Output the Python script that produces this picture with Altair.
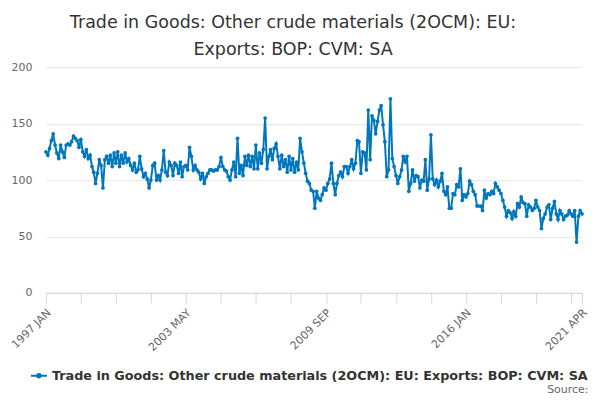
import pandas as pd
import altair as alt

# chart text
title_lines = ["Trade in Goods: Other crude materials (2OCM): EU:",
               "Exports: BOP: CVM: SA"]
series_name = "Trade in Goods: Other crude materials (2OCM): EU: Exports: BOP: CVM: SA"
source_text = "Source:"

# monthly series, Jan 1997 .. Apr 2021
first_month = "1997-01-01"
v1997 = [125, 122, 128, 135, 141, 131, 124, 119, 131, 125, 120, 131]
v1998 = [132, 131, 134, 139, 137, 135, 129, 136, 125, 121, 127, 119]
v1999 = [122, 112, 107, 97, 106, 118, 113, 93, 118, 121, 115, 122]
v2000 = [112, 124, 115, 125, 112, 122, 115, 124, 116, 119, 113, 109]
v2001 = [115, 107, 109, 121, 110, 103, 106, 101, 93, 100, 113, 115]
v2002 = [100, 104, 100, 109, 126, 107, 104, 116, 113, 104, 115, 113]
v2003 = [106, 116, 103, 112, 113, 109, 129, 121, 109, 113, 109, 107]
v2004 = [101, 106, 97, 103, 106, 109, 109, 108, 109, 109, 112, 120]
v2005 = [112, 109, 108, 103, 100, 109, 116, 103, 137, 106, 113, 104]
v2006 = [121, 113, 122, 112, 121, 110, 131, 110, 124, 115, 127, 155]
v2007 = [110, 121, 127, 118, 128, 132, 121, 110, 122, 112, 118, 107]
v2008 = [121, 109, 119, 107, 116, 109, 137, 125, 115, 106, 99, 97]
v2009 = [91, 90, 75, 90, 84, 82, 87, 93, 91, 97, 101, 115]
v2010 = [97, 87, 97, 104, 107, 103, 112, 112, 106, 112, 118, 110]
v2011 = [115, 135, 134, 106, 125, 124, 109, 162, 118, 157, 153, 141]
v2012 = [152, 162, 166, 149, 134, 103, 109, 172, 119, 112, 104, 97]
v2013 = [103, 109, 121, 116, 121, 90, 97, 109, 99, 104, 103, 93]
v2014 = [100, 99, 118, 91, 101, 140, 101, 96, 100, 94, 99, 106]
v2015 = [90, 87, 94, 75, 75, 88, 87, 96, 94, 110, 82, 87]
v2016 = [85, 88, 99, 96, 90, 87, 77, 77, 77, 73, 91, 84]
v2017 = [88, 87, 90, 88, 97, 94, 91, 88, 82, 76, 68, 73]
v2018 = [71, 66, 72, 68, 79, 76, 85, 80, 79, 68, 78, 76]
v2019 = [73, 75, 82, 76, 73, 57, 66, 70, 76, 78, 65, 75]
v2020 = [81, 70, 65, 73, 70, 65, 68, 69, 73, 70, 68, 73]
v2021 = [45, 68, 73, 70]

# x axis: tick every 19 months, labels on some of them
x_tick_months = [(1997, 1), (1998, 8), (2000, 3), (2001, 10), (2003, 5), (2004, 12),
                 (2006, 7), (2008, 2), (2009, 9), (2011, 4), (2012, 11), (2014, 6),
                 (2016, 1), (2017, 8), (2019, 3), (2020, 10), (2021, 4)]
x_label_months = ["1997-01", "2003-05", "2009-09", "2016-01", "2021-04"]
y_ticks = [0, 50, 100, 150, 200]

BLUE = "#0077bd"
FONT = "DejaVu Sans"

values = (v1997 + v1998 + v1999 + v2000 + v2001 + v2002 + v2003 + v2004 + v2005
          + v2006 + v2007 + v2008 + v2009 + v2010 + v2011 + v2012 + v2013 + v2014
          + v2015 + v2016 + v2017 + v2018 + v2019 + v2020 + v2021)

df = pd.DataFrame({
    "month": pd.date_range(first_month, periods=len(values), freq="MS"),
    "value": values,
    "series": series_name,
})

x_vals = [alt.DateTime(year=y, month=m, date=1) for y, m in x_tick_months]
label_list = "[" + ",".join("'%s'" % s for s in x_label_months) + "]"
label_expr = ("indexof(%s, timeFormat(datum.value, '%%Y-%%m')) >= 0 ? "
              "upper(timeFormat(datum.value, '%%Y %%b')) : ''" % label_list)

# legend symbol: short line with a dot in the middle
legend_symbol = ("M-1,0L1,0M0.22,0A0.22,0.22,0,1,1,-0.22,0"
                 "A0.22,0.22,0,1,1,0.22,0Z")

chart = alt.Chart(df).mark_line(
    strokeWidth=2,
    point=alt.OverlayMarkDef(filled=True, size=14, color=BLUE),
).encode(
    x=alt.X("month:T",
            scale=alt.Scale(domain=[x_vals[0], x_vals[-1]]),
            axis=alt.Axis(values=x_vals, labelExpr=label_expr, labelOverlap=False,
                          labelAngle=-45, labelAlign="right", labelBaseline="middle",
                          labelFontSize=11, labelColor="#666666", labelFont=FONT,
                          labelPadding=8, labelOffset=3, grid=False,
                          domainColor="#ccd6eb", tickColor="#ccd6eb", tickSize=10,
                          title=source_text, titleFont=FONT, titleFontSize=11,
                          titleFontWeight="normal", titleColor="#666666",
                          titleAnchor="end", titleAlign="right", titleBaseline="middle",
                          titleX=543, titleY=97)),
    y=alt.Y("value:Q",
            scale=alt.Scale(domain=[0, 200], nice=False),
            axis=alt.Axis(values=y_ticks, grid=True, gridColor="#e6e6e6", domain=False,
                          ticks=False, labelPadding=14, labelFontSize=11,
                          labelColor="#666666", labelFont=FONT, title=None)),
    color=alt.Color("series:N", scale=alt.Scale(range=[BLUE]),
                    legend=alt.Legend(title=None, orient="none", legendX=-16, legendY=300,
                                      symbolType=legend_symbol, symbolSize=256,
                                      symbolStrokeWidth=2, symbolFillColor=BLUE,
                                      symbolStrokeColor=BLUE,
                                      labelFont=FONT, labelFontSize=12.8,
                                      labelFontWeight="bold", labelColor="#333333",
                                      labelLimit=0)),
).properties(
    width=537,
    height=226,
    title=alt.TitleParams(title_lines, font=FONT, fontSize=17.5, fontWeight="normal",
                          color="#333333", anchor="middle", dx=-21, offset=3,
                          lineHeight=27),
    autosize=alt.AutoSizeParams(type="none"),
    padding={"left": 38, "top": 59, "right": 10, "bottom": 115},
).configure_view(stroke=None)

chart.save("out.html", embed_options={"renderer": "svg", "actions": False})
